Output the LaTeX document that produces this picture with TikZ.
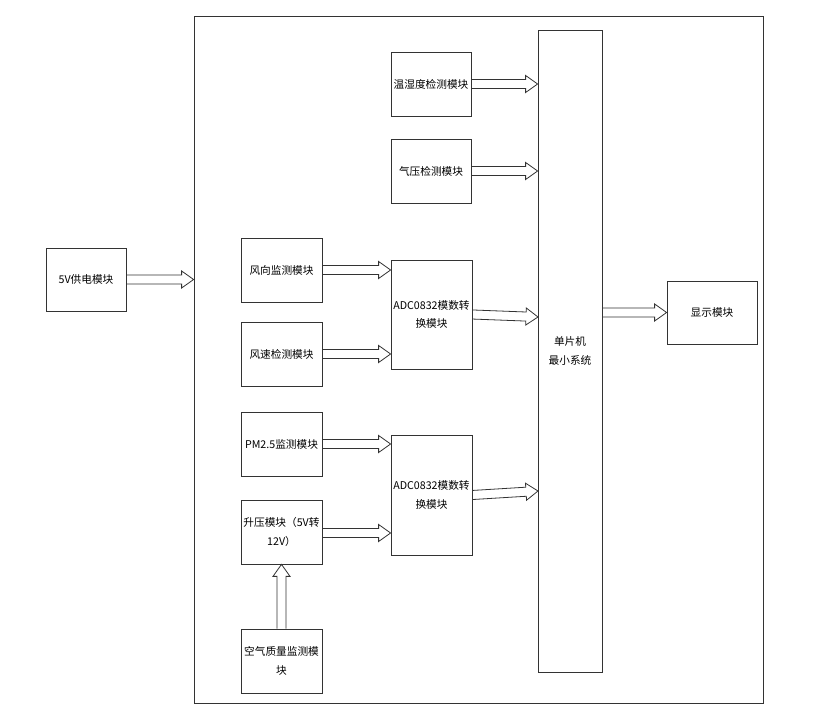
\documentclass[tikz,border=0pt]{standalone}
\usepackage{fontspec}
\setmainfont{Noto Sans CJK SC}
\usepackage{tikz}
\usetikzlibrary{calc,positioning}

\begin{document}
\begin{tikzpicture}[
    x=0.75pt, y=-0.75pt,
    font=\fontsize{8}{14}\selectfont,
    box/.style={
        draw=black!80,
        line width=0.6pt,
        minimum width=60.75pt,
        minimum height=48pt,
        inner sep=0pt,
        align=center
    },
    hollow/.style={
        draw=black!80,
        line width=0.6pt,
        to path={
            let \p1=(\tikztostart), \p2=(\tikztotarget),
                \n1={atan2(\y2-\y1,\x2-\x1)},
                \n2={veclen(\x2-\x1,\y2-\y1)-9} in
            ($(\p1)+(\n1+90:3.4pt)$) -- ++(\n1:\n2) -- ++(\n1+90:3pt)
            -- (\p2)
            -- ($(\p1)+(\n1:\n2)+(\n1-90:6.4pt)$) -- ++(\n1+90:3pt)
            -- ($(\p1)+(\n1-90:3.4pt)$)
        }
    }
]
    \useasboundingbox (0,0) rectangle (815,720);

    %% outer board
    \node[box, minimum width=426.75pt, minimum height=515.25pt] (board) at (478.5,359.5) {};

    %% power supply
    \node[box, minimum width=60pt, minimum height=47.25pt] (power) at (86,279.5) {5V供电模块};

    %% sensors
    \node[box, minimum width=60pt] (temp) at (431,84) {温湿度检测模块};
    \node[box, minimum width=60pt] (press) at (431,171) {气压检测模块};
    \node[box] (wdir) at (281.5,270) {风向监测模块};
    \node[box] (wspd) at (281.5,354) {风速检测模块};
    \node[box] (pm) at (281.5,444) {PM2.5监测模块};
    \node[box] (boost) at (281.5,532) {升压模块（5V转\\12V）};
    \node[box] (air) at (281.5,661) {空气质量监测模\\块};

    %% converters
    \node[box, minimum height=81.75pt] (adc1) at (431.5,314.5) {ADC0832模数转\\换模块};
    \node[box, minimum height=90pt] (adc2) at (431.5,495) {ADC0832模数转\\换模块};

    %% MCU and display
    \node[box, minimum width=48pt, minimum height=481.5pt] (mcu) at (570,351) {单片机\\最小系统};
    \node[box, minimum width=67.5pt, minimum height=47.25pt] (disp) at (712,312.5) {显示模块};

    \coordinate (in1) at (538,317);
    \coordinate (in2) at (538,491);

    %% arrows
    \draw[hollow] (power.east) to (power.east -| board.west);
    \draw[hollow] (temp.east) to (temp.east -| mcu.west);
    \draw[hollow] (press.east) to (press.east -| mcu.west);
    \draw[hollow] (wdir.east) to (wdir.east -| adc1.west);
    \draw[hollow] (wspd.east) to (wspd.east -| adc1.west);
    \draw[hollow] (adc1.east) to (in1);
    \draw[hollow] (pm.east) to (pm.east -| adc2.west);
    \draw[hollow] ($(boost.east)+(0,1)$) to ($(boost.east -| adc2.west)+(0,1)$);
    \draw[hollow] (adc2.east) to (in2);
    \draw[hollow] (air.north) to (boost.south);
    \draw[hollow] (mcu.east |- disp.west) to (disp.west);
\end{tikzpicture}
\end{document}
